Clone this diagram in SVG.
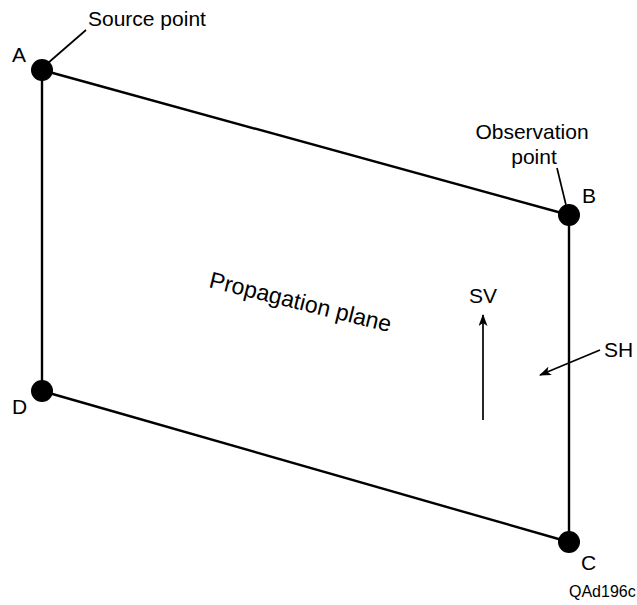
<svg xmlns="http://www.w3.org/2000/svg" width="637" height="605" viewBox="0 0 637 605">
<style>
.e{stroke:#000;stroke-width:2.4;fill:none}
.l{stroke:#000;stroke-width:1.7;fill:none}
.t{font-family:"Liberation Sans",Arial,sans-serif;font-size:21px;fill:#000}
.p{font-size:23px}
.s{font-family:"Liberation Sans",Arial,sans-serif;font-size:16px;fill:#000}
.n{fill:#000}
</style>
<defs>
<marker id="ah" markerWidth="12" markerHeight="9" refX="11" refY="4.5" orient="auto" markerUnits="userSpaceOnUse">
<path d="M0,0 L12,4.5 L0,9 L3,4.5 Z" fill="#000"/>
</marker>
</defs>
<rect width="637" height="605" fill="#fff"/>
<g id="connectors">
<line class="e" x1="42" y1="70" x2="569" y2="215"/>
<line class="e" x1="569" y1="215" x2="569" y2="542"/>
<line class="e" x1="569" y1="542" x2="42" y2="391"/>
<line class="e" x1="42" y1="391" x2="42" y2="70"/>
<line class="l" x1="48" y1="63" x2="86" y2="30"/>
<line class="l" x1="557" y1="168" x2="566" y2="205"/>
<line class="l" x1="483" y1="420" x2="483" y2="315" marker-end="url(#ah)"/>
<line class="l" x1="600" y1="350" x2="540" y2="375" marker-end="url(#ah)"/>
</g>
<g id="A"><circle class="n" cx="42" cy="70" r="11"/><text class="t" x="12" y="62">A</text></g>
<g id="B"><circle class="n" cx="569" cy="215" r="11"/><text class="t" x="582" y="203">B</text></g>
<g id="C"><circle class="n" cx="569" cy="542" r="11"/><text class="t" x="581" y="570">C</text></g>
<g id="D"><circle class="n" cx="42" cy="391" r="11"/><text class="t" x="12" y="414">D</text></g>
<g id="labels">
<text class="t" x="88" y="26">Source point</text>
<text class="t" x="532" y="139" text-anchor="middle">Observation</text>
<text class="t" x="534" y="164" text-anchor="middle">point</text>
<text class="t p" x="208" y="287" transform="rotate(14 208 287)">Propagation plane</text>
<text class="t" x="469" y="303">SV</text>
<text class="t" x="604" y="357">SH</text>
<text class="s" x="569" y="597">QAd196c</text>
</g>
</svg>
